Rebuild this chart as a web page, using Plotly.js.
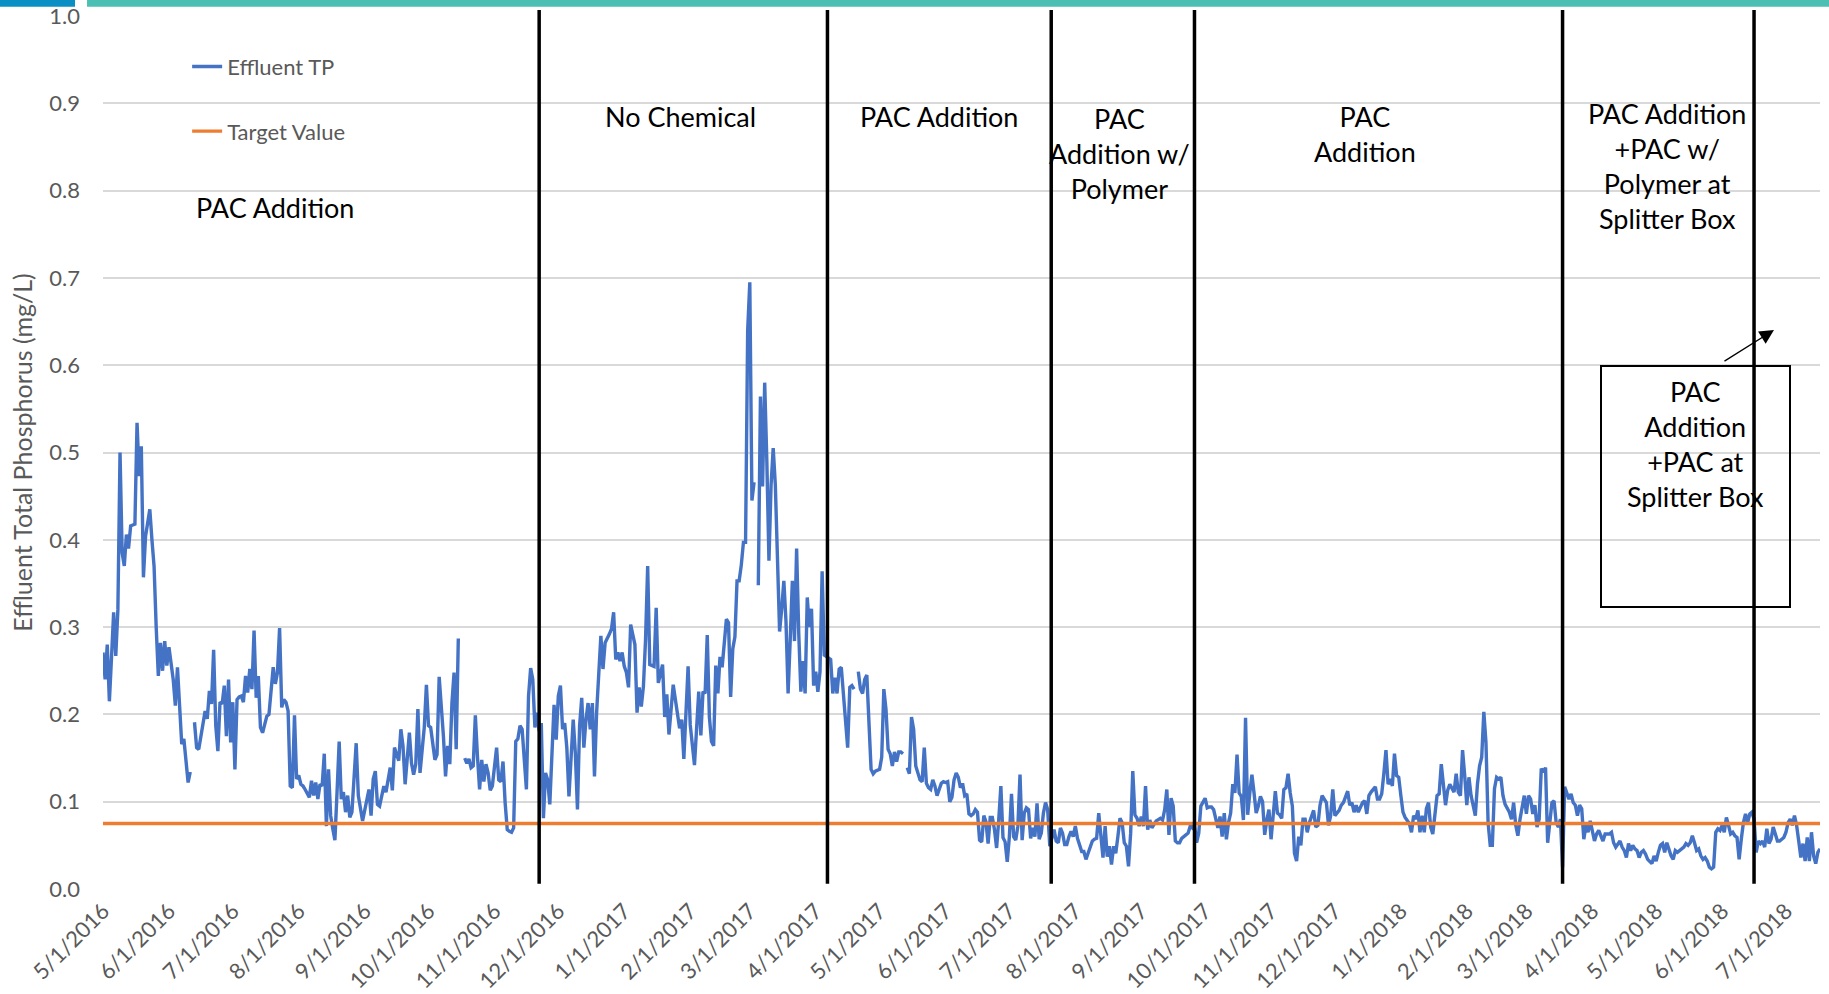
<!DOCTYPE html>
<html>
<head>
<meta charset="utf-8">
<script src="https://cdn.plot.ly/plotly-3.0.1.min.js"></script>
<style>
html,body{margin:0;padding:0;background:#fff;}
#chart{width:1829px;height:994px;}
</style>
</head>
<body>
<div id="chart"></div>
<script>
// Effluent TP samples (mg/L); null = no sample (line gap)
const tpDates = [
'2016-05-01','2016-05-02','2016-05-03','2016-05-04','2016-05-05','2016-05-06','2016-05-07','2016-05-08','2016-05-09','2016-05-10','2016-05-11','2016-05-12','2016-05-13','2016-05-14','2016-05-15','2016-05-16','2016-05-17','2016-05-18','2016-05-19','2016-05-20','2016-05-21','2016-05-22','2016-05-23','2016-05-24','2016-05-25','2016-05-26','2016-05-27','2016-05-28','2016-05-29','2016-05-30','2016-05-31',
'2016-06-01','2016-06-02','2016-06-03','2016-06-04','2016-06-05','2016-06-06','2016-06-07','2016-06-08','2016-06-09','2016-06-10','2016-06-11','2016-06-12','2016-06-13','2016-06-14','2016-06-15','2016-06-16','2016-06-17','2016-06-18','2016-06-19','2016-06-20','2016-06-21','2016-06-22','2016-06-23','2016-06-24','2016-06-25','2016-06-26','2016-06-27','2016-06-28','2016-06-29','2016-06-30',
'2016-07-01','2016-07-02','2016-07-03','2016-07-04','2016-07-05','2016-07-06','2016-07-07','2016-07-08','2016-07-09','2016-07-10','2016-07-11','2016-07-12','2016-07-13','2016-07-14','2016-07-15','2016-07-16','2016-07-17','2016-07-18','2016-07-19','2016-07-20','2016-07-21','2016-07-22','2016-07-23','2016-07-24','2016-07-25','2016-07-26','2016-07-27','2016-07-28','2016-07-29','2016-07-30','2016-07-31',
'2016-08-01','2016-08-02','2016-08-03','2016-08-04','2016-08-05','2016-08-06','2016-08-07','2016-08-08','2016-08-09','2016-08-10','2016-08-11','2016-08-12','2016-08-13','2016-08-14','2016-08-15','2016-08-16','2016-08-17','2016-08-18','2016-08-19','2016-08-20','2016-08-21','2016-08-22','2016-08-23','2016-08-24','2016-08-25','2016-08-26','2016-08-28','2016-08-29','2016-08-31',
'2016-09-02','2016-09-03','2016-09-04','2016-09-05','2016-09-06','2016-09-07','2016-09-08','2016-09-10','2016-09-11','2016-09-12','2016-09-13','2016-09-14','2016-09-15','2016-09-16','2016-09-17','2016-09-18','2016-09-19','2016-09-20','2016-09-22','2016-09-23','2016-09-24','2016-09-25','2016-09-26','2016-09-27','2016-09-29','2016-09-30',
'2016-10-01','2016-10-02','2016-10-03','2016-10-04','2016-10-05','2016-10-06','2016-10-08','2016-10-09','2016-10-10','2016-10-11','2016-10-12','2016-10-13','2016-10-14','2016-10-15','2016-10-16','2016-10-18','2016-10-19','2016-10-20','2016-10-21','2016-10-22','2016-10-23','2016-10-24','2016-10-25','2016-10-26','2016-10-27','2016-10-28','2016-10-29','2016-10-30','2016-10-31',
'2016-11-02','2016-11-03','2016-11-04','2016-11-05','2016-11-06','2016-11-07','2016-11-08','2016-11-09','2016-11-10','2016-11-11','2016-11-12','2016-11-13','2016-11-14','2016-11-15','2016-11-16','2016-11-17','2016-11-18','2016-11-19','2016-11-20','2016-11-21','2016-11-22','2016-11-23','2016-11-24','2016-11-25','2016-11-26','2016-11-27','2016-11-28','2016-11-29','2016-11-30',
'2016-12-01','2016-12-02','2016-12-03','2016-12-04','2016-12-05','2016-12-06','2016-12-07','2016-12-08','2016-12-09','2016-12-10','2016-12-11','2016-12-12','2016-12-13','2016-12-14','2016-12-15','2016-12-16','2016-12-17','2016-12-18','2016-12-19','2016-12-20','2016-12-21','2016-12-22','2016-12-23','2016-12-25','2016-12-26','2016-12-27','2016-12-28','2016-12-29','2016-12-30','2016-12-31',
'2017-01-01','2017-01-02','2017-01-03','2017-01-04','2017-01-05','2017-01-06','2017-01-07','2017-01-08','2017-01-09','2017-01-10','2017-01-11','2017-01-12','2017-01-13','2017-01-15','2017-01-16','2017-01-17','2017-01-19','2017-01-20','2017-01-21','2017-01-22','2017-01-24','2017-01-26','2017-01-27','2017-01-28','2017-01-29','2017-01-31',
'2017-02-01','2017-02-03','2017-02-05','2017-02-06','2017-02-07','2017-02-08','2017-02-09','2017-02-10','2017-02-11','2017-02-12','2017-02-13','2017-02-14','2017-02-15','2017-02-16','2017-02-18','2017-02-19','2017-02-20','2017-02-21','2017-02-22','2017-02-23','2017-02-24','2017-02-25','2017-02-26','2017-02-27','2017-02-28',
'2017-03-01','2017-03-02','2017-03-03','2017-03-04','2017-03-05','2017-03-06','2017-03-07','2017-03-08','2017-03-09','2017-03-10','2017-03-11','2017-03-12','2017-03-13','2017-03-14','2017-03-15','2017-03-16','2017-03-17','2017-03-18','2017-03-19','2017-03-20','2017-03-21','2017-03-22','2017-03-23','2017-03-24','2017-03-25','2017-03-26','2017-03-27','2017-03-28','2017-03-29','2017-03-30','2017-03-31',
'2017-04-01','2017-04-02','2017-04-03','2017-04-04','2017-04-05','2017-04-08','2017-04-09','2017-04-10','2017-04-11','2017-04-12','2017-04-13','2017-04-14','2017-04-15','2017-04-16','2017-04-17','2017-04-18','2017-04-19','2017-04-20','2017-04-21','2017-04-22','2017-04-23','2017-04-24','2017-04-25','2017-04-26','2017-04-27','2017-04-28','2017-04-29',
'2017-05-01','2017-05-02','2017-05-03','2017-05-04','2017-05-05','2017-05-06','2017-05-07','2017-05-08','2017-05-09','2017-05-10','2017-05-11','2017-05-12','2017-05-13','2017-05-14','2017-05-15','2017-05-16','2017-05-17','2017-05-18','2017-05-19','2017-05-20','2017-05-21','2017-05-22','2017-05-23','2017-05-24','2017-05-25','2017-05-26','2017-05-27','2017-05-28','2017-05-29','2017-05-30','2017-05-31',
'2017-06-01','2017-06-02','2017-06-03','2017-06-04','2017-06-05','2017-06-06','2017-06-07','2017-06-08','2017-06-09','2017-06-10','2017-06-11','2017-06-12','2017-06-13','2017-06-14','2017-06-15','2017-06-16','2017-06-17','2017-06-18','2017-06-19','2017-06-20','2017-06-21','2017-06-22','2017-06-23','2017-06-24','2017-06-25','2017-06-26','2017-06-27','2017-06-28','2017-06-29','2017-06-30',
'2017-07-01','2017-07-02','2017-07-03','2017-07-04','2017-07-05','2017-07-06','2017-07-07','2017-07-08','2017-07-09','2017-07-10','2017-07-11','2017-07-12','2017-07-13','2017-07-14','2017-07-15','2017-07-16','2017-07-17','2017-07-18','2017-07-19','2017-07-20','2017-07-22','2017-07-23','2017-07-24','2017-07-25','2017-07-26','2017-07-27','2017-07-28','2017-07-29','2017-07-30','2017-07-31',
'2017-08-01','2017-08-02','2017-08-03','2017-08-04','2017-08-05','2017-08-06','2017-08-07','2017-08-08','2017-08-09','2017-08-10','2017-08-11','2017-08-12','2017-08-13','2017-08-14','2017-08-15','2017-08-16','2017-08-17','2017-08-18','2017-08-19','2017-08-20','2017-08-21','2017-08-22','2017-08-23','2017-08-24','2017-08-25','2017-08-26','2017-08-27','2017-08-28','2017-08-29','2017-08-30','2017-08-31',
'2017-09-01','2017-09-02','2017-09-03','2017-09-04','2017-09-05','2017-09-06','2017-09-07','2017-09-08','2017-09-10','2017-09-11','2017-09-12','2017-09-13','2017-09-14','2017-09-15','2017-09-16','2017-09-17','2017-09-18','2017-09-19','2017-09-20','2017-09-22','2017-09-23','2017-09-24','2017-09-25','2017-09-26','2017-09-27','2017-09-28','2017-09-29',
'2017-10-01','2017-10-02','2017-10-03','2017-10-04','2017-10-05','2017-10-06','2017-10-07','2017-10-08','2017-10-09','2017-10-10','2017-10-11','2017-10-12','2017-10-13','2017-10-14','2017-10-15','2017-10-16','2017-10-17','2017-10-18','2017-10-19','2017-10-20','2017-10-21','2017-10-22','2017-10-23','2017-10-24','2017-10-25','2017-10-26','2017-10-27','2017-10-28','2017-10-29','2017-10-30','2017-10-31',
'2017-11-01','2017-11-02','2017-11-03','2017-11-04','2017-11-05','2017-11-06','2017-11-07','2017-11-08','2017-11-09','2017-11-10','2017-11-11','2017-11-12','2017-11-13','2017-11-14','2017-11-15','2017-11-16','2017-11-17','2017-11-18','2017-11-19','2017-11-21','2017-11-22','2017-11-23','2017-11-24','2017-11-25','2017-11-27','2017-11-28','2017-11-29','2017-11-30',
'2017-12-01','2017-12-03','2017-12-04','2017-12-05','2017-12-07','2017-12-08','2017-12-09','2017-12-10','2017-12-11','2017-12-12','2017-12-14','2017-12-15','2017-12-16','2017-12-17','2017-12-18','2017-12-20','2017-12-21','2017-12-22','2017-12-23','2017-12-24','2017-12-25','2017-12-26','2017-12-27','2017-12-28','2017-12-29','2017-12-30','2017-12-31',
'2018-01-01','2018-01-02','2018-01-03','2018-01-04','2018-01-05','2018-01-06','2018-01-07','2018-01-08','2018-01-09','2018-01-10','2018-01-11','2018-01-12','2018-01-13','2018-01-14','2018-01-15','2018-01-16','2018-01-17','2018-01-18','2018-01-19','2018-01-20','2018-01-22','2018-01-23','2018-01-24','2018-01-25','2018-01-26','2018-01-27','2018-01-28','2018-01-29','2018-01-30','2018-01-31',
'2018-02-01','2018-02-02','2018-02-03','2018-02-05','2018-02-06','2018-02-07','2018-02-08','2018-02-09','2018-02-10','2018-02-11','2018-02-12','2018-02-13','2018-02-14','2018-02-15','2018-02-16','2018-02-17','2018-02-18','2018-02-19','2018-02-20','2018-02-21','2018-02-22','2018-02-23','2018-02-24','2018-02-25','2018-02-26','2018-02-27','2018-02-28',
'2018-03-01','2018-03-02','2018-03-03','2018-03-04','2018-03-05','2018-03-06','2018-03-07','2018-03-08','2018-03-09','2018-03-10','2018-03-11','2018-03-12','2018-03-13','2018-03-14','2018-03-15','2018-03-16','2018-03-17','2018-03-18','2018-03-19','2018-03-21','2018-03-22','2018-03-23','2018-03-24','2018-03-25','2018-03-26','2018-03-27','2018-03-28','2018-03-29','2018-03-30','2018-03-31',
'2018-04-01','2018-04-02','2018-04-03','2018-04-04','2018-04-05','2018-04-06','2018-04-07','2018-04-09','2018-04-10','2018-04-11','2018-04-12','2018-04-13','2018-04-14','2018-04-15','2018-04-16','2018-04-17','2018-04-18','2018-04-19','2018-04-20','2018-04-21','2018-04-22','2018-04-23','2018-04-24','2018-04-25','2018-04-26','2018-04-27','2018-04-29','2018-04-30',
'2018-05-01','2018-05-02','2018-05-03','2018-05-04','2018-05-05','2018-05-06','2018-05-07','2018-05-08','2018-05-09','2018-05-10','2018-05-11','2018-05-12','2018-05-14','2018-05-15','2018-05-16','2018-05-17','2018-05-18','2018-05-19','2018-05-20','2018-05-21','2018-05-22','2018-05-23','2018-05-24','2018-05-25','2018-05-26','2018-05-27','2018-05-28','2018-05-29','2018-05-30','2018-05-31',
'2018-06-01','2018-06-02','2018-06-03','2018-06-04','2018-06-05','2018-06-06','2018-06-07','2018-06-08','2018-06-09','2018-06-10','2018-06-11','2018-06-12','2018-06-13','2018-06-14','2018-06-15','2018-06-16','2018-06-17','2018-06-18','2018-06-19','2018-06-20','2018-06-21','2018-06-22','2018-06-23','2018-06-24','2018-06-25','2018-06-26','2018-06-27','2018-06-28','2018-06-29','2018-06-30',
'2018-07-01','2018-07-02','2018-07-03','2018-07-04','2018-07-05','2018-07-06','2018-07-07','2018-07-08','2018-07-09','2018-07-10','2018-07-11','2018-07-12','2018-07-13','2018-07-14','2018-07-15','2018-07-16','2018-07-17'
];
const tpValues = [
.271,.240,.280,.215,.265,.317,.267,.320,.500,.385,.370,.406,.390,.416,.417,.418,.534,.473,.507,.357,.404,.420,.435,.400,.370,.300,.244,.282,.250,.284,.256,
.277,.260,.240,.210,.254,.210,.166,.172,.150,.122,.134,null,.191,.162,.160,.175,.190,.204,.195,.227,.212,.274,.187,.158,.214,.212,.233,.175,.240,.168,
.214,.137,.217,.220,.221,.214,.244,.225,.252,.229,.296,.219,.244,.185,.179,.190,.198,.200,.230,.254,.235,.248,.299,.208,.217,.214,.204,.118,.116,.199,.126,
.130,.120,.118,.114,.110,.105,.124,.107,.122,.103,.120,.118,.155,.072,.137,.084,.069,.056,.111,.169,.103,.111,.088,.107,.082,.088,.167,.107,.078,
.103,.114,.084,.126,.135,.097,.095,.118,.111,.124,.139,.113,.162,.154,.147,.183,.164,.120,.179,.144,.131,.143,.206,.133,.185,.234,
.187,.185,.167,.148,.154,.243,.175,.129,.164,.143,.213,.248,.160,.287,null,.150,.144,.149,.139,.141,.199,.152,.114,.148,.123,.143,.133,.113,.118,
.162,.125,.123,.146,.099,.068,.066,.065,.070,.169,.172,.187,.183,.152,.114,.221,.253,.240,.185,.202,.181,.190,.081,.133,.125,.097,.167,.211,.171,
.221,.233,.183,.190,.162,.106,.160,.194,.156,.091,.187,.219,.162,.194,.213,.183,.213,.129,.202,.255,.290,.252,.282,.292,.298,.317,.263,.271,.261,.271,
.255,.248,.231,.303,.290,.280,.202,.231,.209,.232,.286,.370,.257,.255,.322,.236,.257,.197,.223,.177,.234,.197,.184,.194,.149,.255,
.188,.142,.226,.176,.226,.224,.291,.197,.169,.164,.256,.224,.266,.254,.309,.305,.220,.275,.289,.353,.353,.371,.397,.397,.640,
.695,.445,.466,null,.348,.564,.461,.580,.491,.376,.463,.505,.463,.376,.295,.321,.353,.307,.224,.286,.353,.284,.390,.293,.226,.261,.224,.334,.300,.321,.233,
.249,.226,.249,.364,.268,.263,.224,.242,.224,.252,.254,.222,.187,.162,.231,.233,.229,null,.249,.229,.224,.240,.245,.192,.137,.132,.135,
.137,.151,.229,.206,.160,.155,.141,.157,.146,.157,.157,.155,null,.139,.132,.197,.183,.141,.132,.125,.123,.162,.121,.116,.114,.125,.118,.107,.114,.121,.123,
.122,.123,.100,.105,.125,.133,.128,.116,.121,.107,.109,.086,.084,.086,.091,.088,.056,.054,.084,.077,.052,.082,.082,.068,.047,.079,.118,.059,.054,.031,
.060,.109,.060,.056,.072,.131,.056,.087,.093,.091,.058,.070,.060,.098,.057,.064,.087,.099,.091,.049,.068,.055,.053,.070,.064,.051,.051,.060,.066,.060,
.072,.058,.049,.043,.043,.034,.041,.049,.055,.057,.058,.087,.060,.036,.072,.037,.049,.028,.049,.041,.060,.081,.076,.053,.049,.026,.064,.135,.085,.081,.072,
.083,.072,.118,.068,.079,.070,.074,.078,.081,.079,.091,.114,.062,.104,.095,.055,.053,.053,.058,.062,.064,.072,.070,.074,.053,.064,.095,
.104,.093,.094,.094,.091,.079,.070,.083,.060,.087,.057,.076,.087,.120,.110,.154,.110,.106,.079,.196,.085,.110,.131,.110,.087,.095,.106,.100,.062,.079,.091,
.057,.089,.112,.087,.085,.081,.114,.116,.132,.110,.095,.041,.032,.060,.050,.080,.080,.065,.076,.090,.071,.073,.096,.107,.099,.073,.084,.114,
.084,.090,.096,.099,.112,.096,.099,.088,.096,.088,.099,.101,.086,.107,.111,.117,.103,.103,.109,.132,.159,.120,.126,.118,.155,.130,.128,
.107,.088,.082,.078,.075,.065,.084,.080,.090,.065,.084,.065,.092,.099,.071,.063,.084,.107,.109,.143,.096,.113,.120,.115,.111,.132,.111,.107,.159,.130,
.096,.128,.107,.084,.120,.141,.151,.203,.168,.076,.050,.050,.115,.128,.126,.128,.107,.097,.092,.088,.080,.099,.073,.061,.080,.092,.107,
.086,.107,.103,.086,.096,.071,.080,.138,.134,.139,.053,.080,.099,.101,.076,.071,.080,.025,.117,.103,.109,.099,.096,.084,.096,.092,.057,.073,.065,.078,
.067,.055,.063,.067,.061,.055,.063,.063,.065,.053,.048,.052,.055,.048,.044,.036,.052,.044,.050,.046,.044,.036,.042,.044,.040,.034,.029,.038,
.032,.042,.050,.052,.042,.053,.044,.038,.034,.044,.042,.044,.048,.052,.050,.053,.061,.053,.044,.046,.038,.034,.036,.032,.025,.023,.025,.065,.069,.067,
.073,.065,.082,.073,.063,.065,.061,.059,.034,.057,.076,.086,.076,.086,.088,.080,.042,.055,.052,.055,.048,.069,.052,.057,.071,.063,.055,.055,.057,.059,
.065,.076,.080,.073,.084,.073,.055,.036,.052,.032,.059,.032,.065,.038,.029,.042,.046
];
const targetDates = ['2016-05-01', '2018-07-17'];
const targetValues = [0.075, 0.075];
// Dates where the treatment changed (vertical separators)
const phaseBoundaries = ['2016-11-22', '2017-04-06 12:00', '2017-07-20 16:00', '2017-09-26', '2018-03-18', '2018-06-16'];
const yTicks = [0, 0.1, 0.2, 0.3, 0.4, 0.5, 0.6, 0.7, 0.8, 0.9, 1.0];

const FONT = 'Lato, "Open Sans", sans-serif';
const GREY = '#595959';

const traces = [
  {x: tpDates, y: tpValues, type: 'scatter', mode: 'lines', name: 'Effluent TP',
   legendgroup: 'g1', connectgaps: false,
   line: {color: '#4472C4', width: 3.4}},
  {x: targetDates, y: targetValues, type: 'scatter', mode: 'lines', name: 'Target Value',
   legendgroup: 'g2',
   line: {color: '#ED7D31', width: 3.4}}
];

const shapes = phaseBoundaries.map(d => ({
  type: 'line', xref: 'x', yref: 'paper', x0: d, x1: d, y0: 0.006, y1: 1.007,
  line: {color: '#000000', width: 3.5}, layer: 'above'
}));
// decorative header bars of the slide
shapes.push({type: 'rect', xref: 'paper', yref: 'paper', x0: -0.06, x1: -0.0163, y0: 1.0107, y1: 1.0185,
  line: {width: 0}, fillcolor: '#0a8fc4'});
shapes.push({type: 'rect', xref: 'paper', yref: 'paper', x0: -0.0093, x1: 1.0055, y0: 1.0107, y1: 1.0185,
  line: {width: 0}, fillcolor: '#4bbfb1'});

const ann = (text, x, y) => ({text, x, y, xref: 'paper', yref: 'paper', showarrow: false,
  xanchor: 'center', yanchor: 'middle', align: 'center',
  font: {family: FONT, size: 27, color: '#000000'}});

const annotations = [
  ann('PAC Addition', 0.1004, 0.7805),
  ann('No Chemical', 0.3361, 0.8847),
  ann('PAC Addition', 0.4869, 0.8847),
  ann('PAC<br>Addition w/<br>Polymer', 0.5923, 0.8425),
  ann('PAC<br>Addition', 0.7349, 0.8653),
  ann('PAC Addition<br>+PAC w/<br>Polymer at<br>Splitter Box', 0.9109, 0.8286),
  {text: 'PAC<br>Addition<br>+PAC at<br>Splitter Box', x: 0.9275, y: 0.6002, xref: 'paper', yref: 'paper',
   showarrow: false, xanchor: 'center', yanchor: 'top', align: 'center', valign: 'top',
   width: 171, height: 223, borderpad: 8, bordercolor: '#000000', borderwidth: 2, bgcolor: 'rgba(255,255,255,0)',
   font: {family: FONT, size: 27, color: '#000000'}},
  {text: '', x: 0.9732, y: 0.6403, xref: 'paper', yref: 'paper', showarrow: true,
   ax: -51, ay: 32, arrowhead: 2, arrowsize: 2.2, arrowwidth: 1.3, arrowcolor: '#000000', standoff: 0}
];

const layout = {
  width: 1829, height: 994,
  margin: {l: 103, r: 9, t: 16, b: 105},
  paper_bgcolor: '#ffffff', plot_bgcolor: '#ffffff',
  font: {family: FONT, color: GREY},
  showlegend: true,
  legend: {x: 0.049, xanchor: 'left', y: 0.966, yanchor: 'top', traceorder: 'grouped',
    tracegroupgap: 33, bgcolor: 'rgba(0,0,0,0)', font: {family: FONT, size: 22, color: GREY}},
  xaxis: {type: 'date', range: ['2016-05-01', '2018-07-17'], tick0: '2016-05-01', dtick: 'M1',
    tickformat: '%-m/%-d/%Y', tickangle: -45, showgrid: false, zeroline: false, showline: false,
    ticks: '', ticklabelstandoff: 4,
    tickfont: {family: FONT, size: 22, color: GREY}},
  yaxis: {range: [0, 1.0], tickvals: yTicks, tickformat: '.1f', showgrid: true, gridcolor: '#d9d9d9', gridwidth: 2,
    zeroline: false, showline: false, ticks: '', ticklabelstandoff: 22,
    tickfont: {family: FONT, size: 22, color: GREY},
    title: {text: 'Effluent Total Phosphorus (mg/L)', font: {family: FONT, size: 25, color: GREY}, standoff: 9}},
  shapes, annotations
};

Plotly.newPlot('chart', traces, layout, {displayModeBar: false, staticPlot: true});
</script>
</body>
</html>
